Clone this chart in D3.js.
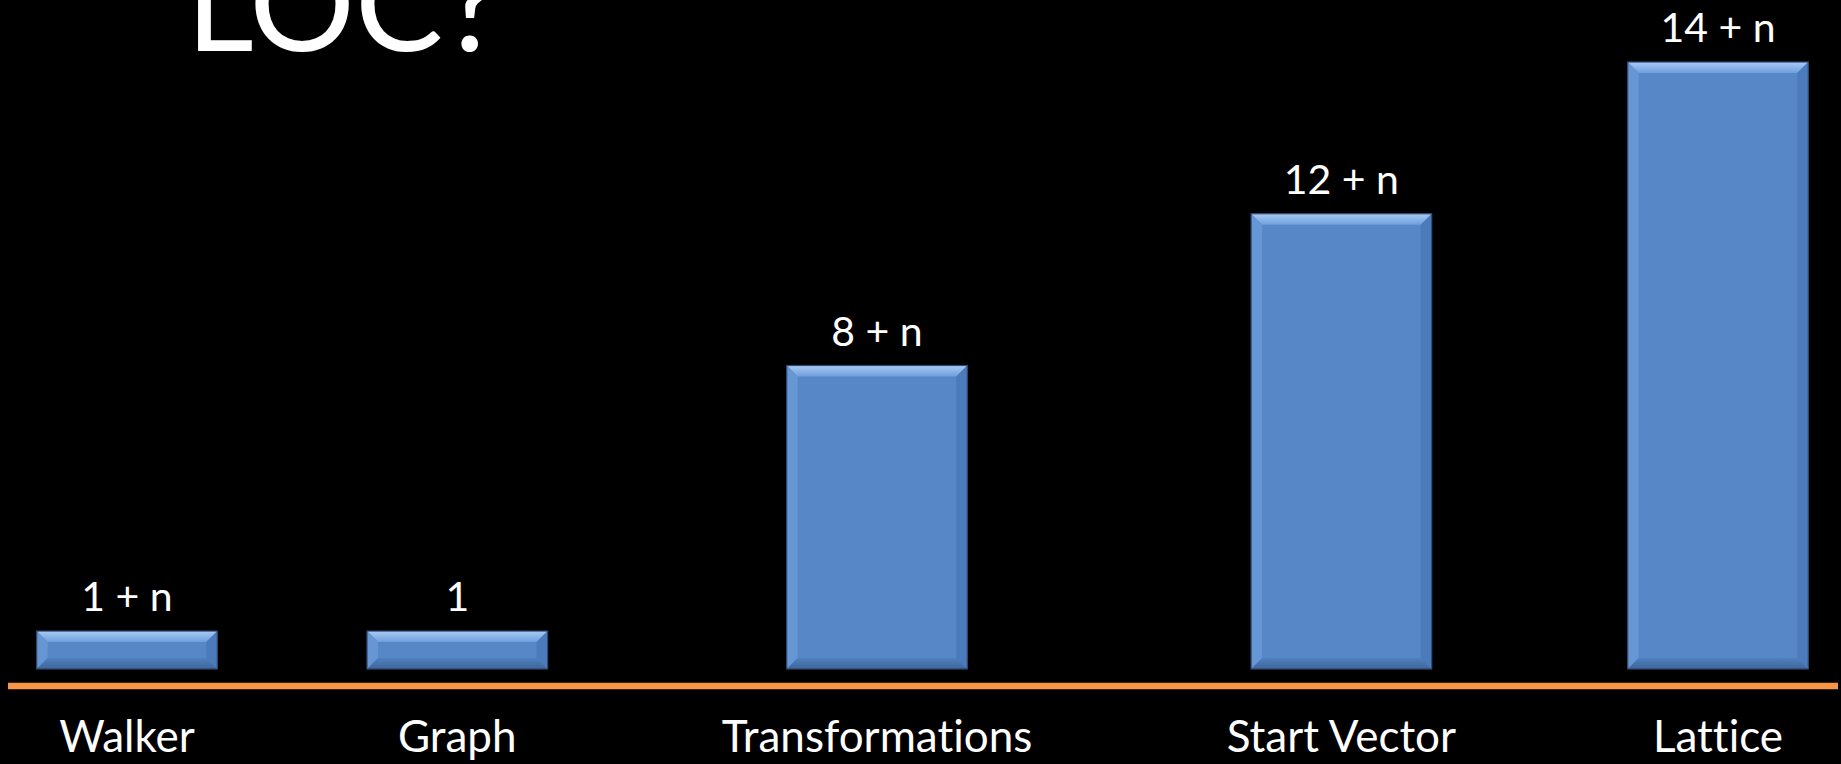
<!DOCTYPE html>
<html>
<head>
<meta charset="utf-8">
<script src="https://cdn.jsdelivr.net/npm/d3@7"></script>
<style>
  html, body { margin: 0; padding: 0; background: #000; overflow: hidden; }
  svg { display: block; }
  text { font-variant-ligatures: none; font-feature-settings: "liga" 0, "clig" 0; }
</style>
</head>
<body>
<script>
// ---- data ----
const categories = ["Walker", "Graph", "Transformations", "Start Vector", "Lattice"];
const values = [1, 1, 8, 12, 16];
const valueLabels = ["1 + n", "1", "8 + n", "12 + n", "14 + n"];
const title = "LOC?";

const W = 1841, H = 764;
const svg = d3.select("body").append("svg").attr("width", W).attr("height", H);
svg.append("rect").attr("width", W).attr("height", H).attr("fill", "#000");

const defs = svg.append("defs");
const gTop = defs.append("linearGradient").attr("id", "gTop").attr("x1", 0).attr("y1", 0).attr("x2", 0).attr("y2", 1);
gTop.append("stop").attr("offset", "0%").attr("stop-color", "#a9cbf4");
gTop.append("stop").attr("offset", "100%").attr("stop-color", "#6e9fdc");
const gBot = defs.append("linearGradient").attr("id", "gBot").attr("x1", 0).attr("y1", 0).attr("x2", 0).attr("y2", 1);
gBot.append("stop").attr("offset", "0%").attr("stop-color", "#5080bf");
gBot.append("stop").attr("offset", "100%").attr("stop-color", "#3f6699");

// layout scales
const x = d3.scaleOrdinal().domain(categories).range([127, 457.3, 877, 1341.4, 1718]);
const bw = 180.6;
const y = d3.scaleLinear().domain([0, 16]).range([669, 62]);

const data = categories.map((c, i) => ({ c, v: values[i], lab: valueLabels[i] }));
const b = 11;

const bars = svg.append("g").selectAll("g").data(data).join("g")
  .attr("transform", d => `translate(${x(d.c) - bw / 2},${y(d.v)})`);

bars.append("rect")
  .attr("width", bw).attr("height", d => y(0) - y(d.v))
  .attr("fill", "#5787c7");
bars.append("path").attr("fill", "url(#gTop)")
  .attr("d", d => `M0,0 L${bw},0 L${bw - b},${b} L${b},${b} Z`);
bars.append("path").attr("fill", "#6696d3")
  .attr("d", d => { const h = y(0) - y(d.v); return `M0,0 L${b},${b} L${b},${h - b} L0,${h} Z`; });
bars.append("path").attr("fill", "#4b7bbb")
  .attr("d", d => { const h = y(0) - y(d.v); return `M${bw},0 L${bw - b},${b} L${bw - b},${h - b} L${bw},${h} Z`; });
bars.append("path").attr("fill", "url(#gBot)")
  .attr("d", d => { const h = y(0) - y(d.v); return `M0,${h} L${b},${h - b} L${bw - b},${h - b} L${bw},${h} Z`; });
bars.append("rect")
  .attr("width", bw).attr("height", d => y(0) - y(d.v))
  .attr("fill", "none").attr("stroke", "#2c4a72").attr("stroke-width", 1.2);

// value labels
svg.append("g").selectAll("text").data(data).join("text")
  .attr("x", d => x(d.c)).attr("y", d => y(d.v) - 20)
  .attr("text-anchor", "middle")
  .attr("font-family", "Lato, sans-serif").attr("font-size", 41)
  .attr("fill", "#fff")
  .text(d => d.lab);

// axis line
const xAxisScale = d3.scaleLinear().domain([0, 1]).range([8, 1838]);
svg.append("line")
  .attr("x1", xAxisScale(0)).attr("x2", xAxisScale(1))
  .attr("y1", 686).attr("y2", 686)
  .attr("stroke", "#f79646").attr("stroke-width", 6.5);

// category labels
svg.append("g").selectAll("text").data(categories).join("text")
  .attr("x", d => x(d)).attr("y", 752)
  .attr("text-anchor", "middle")
  .attr("font-family", "Lato, sans-serif").attr("font-size", 44)
  .attr("fill", "#fff")
  .text(d => d);

// title (partially cropped at top, as in the reference)
svg.append("text")
  .attr("x", 186).attr("y", 51)
  .attr("font-family", "Lato, sans-serif").attr("font-size", 132)
  .attr("fill", "#fff")
  .text(title);
</script>
</body>
</html>
